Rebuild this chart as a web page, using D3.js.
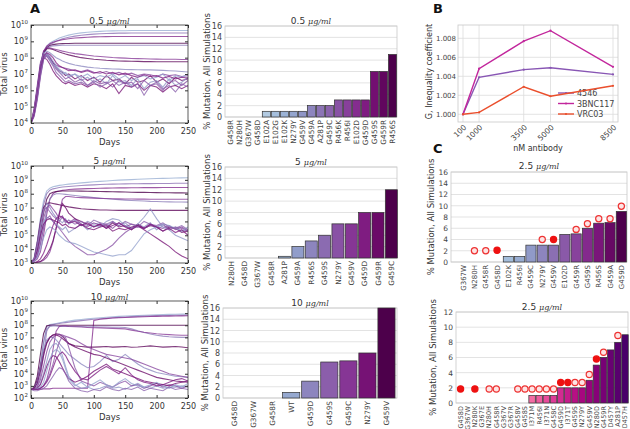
<!DOCTYPE html>
<html><head><meta charset="utf-8">
<script src="https://cdn.jsdelivr.net/npm/d3@7"></script>
<style>body{margin:0;background:#fff}svg{display:block}text{font-family:"DejaVu Sans",sans-serif}</style>
</head><body><svg id="c" width="630" height="429"></svg>
<script>
// ---------- DATA ----------
const days = [0,5,10,15,20,25,30,35,40,45,50,55,60,70,80,90,100,110,120,130,140,150,160,170,180,190,200,210,220,230,240,250];

// log10(total virus) per simulation, 0.5 ug/ml
const traj05 = [
 [4.0,4.6,5.8,7.3,8.3,8.7,8.9,9.0,9.1,9.2,9.27,9.33,9.38,9.46,9.52,9.56,9.59,9.61,9.63,9.64,9.65,9.65,9.66,9.66,9.66,9.66,9.66,9.66,9.66,9.66,9.66,9.66],
 [4.0,4.5,5.6,7.1,8.2,8.6,8.8,8.9,9.0,9.08,9.15,9.2,9.25,9.32,9.37,9.41,9.44,9.46,9.48,9.49,9.5,9.5,9.51,9.51,9.51,9.51,9.51,9.51,9.51,9.51,9.51,9.51],
 [4.0,4.7,6.0,7.5,8.4,8.7,8.85,8.95,9.0,9.05,9.1,9.13,9.16,9.2,9.23,9.25,9.27,9.28,9.29,9.3,9.3,9.3,9.3,9.3,9.3,9.3,9.3,9.3,9.3,9.3,9.3,9.3],
 [4.0,4.6,5.9,7.4,8.3,8.6,8.75,8.8,8.83,8.85,8.86,8.87,8.87,8.88,8.88,8.88,8.88,8.88,8.88,8.88,8.88,8.88,8.88,8.88,8.88,8.88,8.88,8.88,8.88,8.88,8.88,8.88],
 [4.0,4.5,5.7,7.2,8.2,8.55,8.68,8.72,8.74,8.75,8.76,8.76,8.76,8.76,8.76,8.76,8.76,8.76,8.76,8.76,8.76,8.76,8.76,8.76,8.76,8.76,8.76,8.76,8.76,8.76,8.76,8.76],
 [4.0,4.7,6.1,7.6,8.4,8.6,8.6,8.55,8.5,8.45,8.4,8.36,8.32,8.25,8.2,8.15,8.1,8.07,8.04,8.01,7.99,7.97,7.95,7.94,7.93,7.92,7.91,7.9,7.9,7.9,7.89,7.89],
 [4.0,4.6,5.9,7.4,8.3,8.55,8.55,8.5,8.42,8.35,8.28,8.22,8.17,8.08,8.0,7.95,7.9,7.87,7.84,7.82,7.8,7.79,7.78,7.77,7.76,7.76,7.75,7.75,7.75,7.75,7.75,7.75],
 [4.0,4.8,6.2,7.6,8.3,8.4,8.3,8.15,8.0,7.9,7.8,7.72,7.65,7.55,7.48,7.42,7.38,7.35,7.33,7.31,7.3,7.28,7.27,7.26,7.25,7.25,7.24,7.22,7.2,7.18,7.15,7.12],
 [4.0,4.9,6.3,7.7,8.2,8.1,7.9,7.7,7.55,7.45,7.4,7.35,7.3,7.2,7.15,7.25,7.1,7.05,7.15,7.0,7.1,6.95,7.05,6.9,7.0,6.95,6.85,7.0,6.9,6.95,6.85,6.9],
 [4.0,4.5,5.6,7.0,8.0,8.2,8.0,7.7,7.4,7.2,7.1,6.9,7.0,6.7,6.9,6.6,6.8,6.5,6.9,6.6,6.7,6.4,6.8,6.5,6.6,6.9,6.5,6.7,6.4,6.8,6.6,6.7],
 [4.0,4.6,5.8,7.2,8.1,8.3,8.1,7.8,7.5,7.3,7.15,7.0,6.8,7.0,6.6,6.8,6.5,6.7,6.4,6.9,6.5,6.6,6.3,6.7,6.1,6.5,6.6,6.2,6.7,6.3,6.5,6.8],
 [4.0,4.4,5.4,6.8,7.9,8.2,8.0,7.6,7.3,7.1,6.9,6.7,6.8,6.5,6.7,6.3,6.6,6.4,6.5,6.2,6.6,6.4,6.5,6.1,6.6,6.3,6.4,6.0,6.5,6.6,6.3,6.6],
 [4.0,4.8,6.1,7.4,8.0,7.9,7.6,7.2,6.9,6.7,6.5,6.4,6.5,6.3,6.4,6.2,6.4,6.3,6.1,6.4,5.8,6.3,6.2,6.4,6.0,6.3,6.2,5.9,6.2,6.3,6.1,6.3],
 [4.0,4.7,6.0,7.3,8.1,8.2,7.9,7.6,7.4,7.2,7.0,7.1,6.9,7.0,6.8,7.0,6.7,6.9,6.8,7.0,6.7,6.9,6.6,6.8,6.9,6.7,6.8,7.0,6.6,6.9,6.8,7.0],
 [4.0,4.5,5.5,6.9,7.9,8.1,7.8,7.5,7.1,6.9,6.7,6.5,6.6,6.4,6.5,6.3,6.5,6.2,6.4,6.6,6.3,6.5,6.2,6.4,5.7,6.3,6.5,6.1,6.3,5.9,6.4,6.2],
 [4.0,4.6,5.9,7.3,8.1,8.3,8.2,8.0,7.7,7.5,7.4,7.3,7.2,7.25,7.1,7.2,7.05,7.15,7.0,7.1,6.95,7.05,6.9,6.8,6.95,6.85,6.9,6.75,6.85,6.7,6.8,6.75]
];

// 5 ug/ml
const traj5 = [
 [3.0,3.4,4.6,6.2,7.5,8.2,8.4,8.5,8.55,8.6,8.63,8.66,8.69,8.74,8.78,8.82,8.86,8.89,8.92,8.95,8.98,9.0,9.02,9.04,9.06,9.08,9.1,9.11,9.12,9.13,9.14,9.15],
 [3.0,3.3,4.3,5.8,7.2,8.0,8.25,8.35,8.4,8.45,8.48,8.5,8.52,8.56,8.59,8.62,8.64,8.66,8.68,8.69,8.7,8.71,8.72,8.72,8.73,8.73,8.74,8.74,8.74,8.75,8.75,8.75],
 [3.0,3.1,3.3,3.8,5.0,6.5,7.6,8.0,8.15,8.2,8.24,8.27,8.3,8.33,8.35,8.37,8.38,8.39,8.4,8.41,8.42,8.42,8.43,8.43,8.44,8.44,8.44,8.45,8.45,8.45,8.45,8.45],
 [3.0,3.2,3.9,5.2,6.6,7.6,8.0,8.1,8.15,8.18,8.2,8.2,8.2,8.2,8.19,8.18,8.17,8.16,8.15,8.14,8.13,8.12,8.11,8.1,8.1,8.09,8.08,8.07,8.07,8.06,8.06,8.05],
 [3.0,3.2,3.5,4.3,5.6,6.8,7.6,7.9,8.0,8.0,7.98,7.95,7.92,7.87,7.82,7.77,7.72,7.68,7.64,7.6,7.57,7.54,7.51,7.49,7.47,7.45,7.44,7.42,7.41,7.4,7.4,7.39],
 [3.0,3.0,3.05,3.1,3.2,3.4,3.8,4.5,5.5,6.6,7.6,7.8,7.8,7.75,7.72,7.7,7.68,7.66,7.65,7.64,7.63,7.62,7.62,7.61,7.61,7.6,7.6,7.6,7.6,7.6,7.6,7.6],
 [3.0,3.3,4.5,6.0,7.0,7.3,7.35,7.3,7.25,7.2,7.15,7.1,7.05,6.98,6.92,6.88,6.85,6.83,6.82,6.81,6.8,6.8,6.8,6.8,6.8,6.8,6.8,6.8,6.8,6.8,6.8,6.8],
 [3.0,3.2,4.0,5.5,6.8,7.3,7.0,6.6,6.3,6.1,5.9,6.2,5.8,6.1,5.7,6.0,5.8,5.9,5.6,6.0,5.7,5.9,5.5,5.8,5.6,5.9,5.4,5.7,5.5,5.6,5.3,5.4],
 [3.0,3.1,3.6,4.8,6.2,7.0,7.2,6.9,6.6,6.2,6.4,6.0,5.9,6.2,5.8,5.6,5.9,5.7,5.8,5.5,5.9,5.6,5.8,5.7,5.5,5.8,5.6,5.5,5.7,5.4,5.6,5.3],
 [3.0,3.0,3.05,3.1,3.3,3.6,4.0,4.6,5.5,6.5,7.3,7.0,6.6,6.2,6.0,5.8,5.6,5.8,5.5,5.9,5.6,5.7,5.4,5.8,5.5,5.7,5.6,5.3,5.6,5.5,5.2,5.3],
 [3.0,3.2,3.8,5.0,6.0,6.3,6.2,6.0,5.8,5.6,5.4,5.6,5.2,5.5,5.8,5.4,5.7,5.6,6.0,6.2,6.1,5.7,5.5,5.8,6.3,6.9,6.2,5.6,5.4,5.0,4.8,4.6],
 [3.0,3.1,3.5,4.4,5.5,6.2,6.4,6.0,5.7,5.5,5.2,4.9,4.6,4.2,3.9,3.6,3.6,3.8,4.0,4.3,4.8,5.2,5.5,5.6,5.5,5.7,5.6,5.8,5.4,5.6,5.5,5.3],
 [3.0,3.2,3.9,5.0,5.8,6.1,6.2,6.1,6.0,5.9,5.7,5.8,5.6,5.5,5.8,5.5,5.4,5.6,5.7,5.3,5.5,5.4,5.6,5.7,5.4,5.1,4.8,4.5,4.2,3.8,3.5,3.3],
 [3.0,3.1,3.4,4.0,4.8,5.4,5.6,5.5,5.3,5.0,4.8,4.6,4.5,4.4,4.2,4.0,3.8,3.7,3.6,3.5,3.6,3.6,3.9,4.5,5.1,5.4,5.6,5.8,5.7,5.5,5.3,5.6],
 [3.0,3.3,4.4,5.8,6.8,7.0,6.7,6.4,6.2,6.0,6.3,5.9,6.1,5.8,6.0,5.7,6.1,5.9,5.8,6.0,5.7,6.0,5.8,5.6,6.0,5.8,5.7,5.9,5.6,5.5,5.7,5.4],
 [3.0,3.0,3.1,3.3,3.7,4.3,5.0,5.7,6.2,6.4,6.3,6.1,5.9,6.0,5.7,5.9,5.6,5.8,5.5,5.7,5.9,5.6,5.4,5.7,5.5,5.8,5.6,5.3,5.5,5.2,5.4,5.0]
];

// 10 ug/ml
const traj10 = [
 [2.7,2.8,3.3,4.5,6.5,7.9,8.05,8.1,8.15,8.2,8.25,8.3,8.35,8.42,8.48,8.53,8.58,8.62,8.66,8.7,8.73,8.76,8.78,8.8,8.82,8.84,8.86,8.88,8.9,8.91,8.92,8.93],
 [2.7,2.75,3.0,3.8,5.5,7.5,8.0,8.05,8.1,8.14,8.18,8.22,8.26,8.32,8.38,8.44,8.49,8.54,8.58,8.62,8.65,8.68,8.71,8.73,8.75,8.77,8.79,8.8,8.81,8.82,8.83,8.84],
 [2.7,2.7,2.7,2.7,2.75,2.75,2.75,2.8,2.8,2.8,2.8,2.8,2.8,2.8,2.8,2.8,8.4,8.5,8.55,8.6,8.62,8.64,8.66,8.68,8.7,8.72,8.73,8.74,8.75,8.76,8.77,8.78],
 [2.7,2.9,3.8,5.6,7.3,7.95,8.0,8.0,8.0,8.0,8.0,8.0,8.0,8.0,8.0,8.0,8.0,8.0,8.0,8.0,8.0,8.0,8.0,8.0,8.0,8.0,8.0,8.0,8.0,8.0,8.0,8.0],
 [2.7,2.8,3.4,4.8,6.6,7.7,7.9,7.95,7.95,7.9,7.9,7.9,7.9,7.9,7.9,7.88,7.87,7.86,7.85,7.84,7.83,7.82,7.7,7.55,7.4,7.28,7.18,7.1,7.05,7.02,7.0,7.0],
 [2.7,2.7,2.75,2.8,3.0,3.5,4.5,6.0,7.5,7.9,7.95,7.95,7.9,7.88,7.85,7.82,7.8,7.78,7.76,7.74,7.72,7.7,7.6,7.5,7.42,7.36,7.3,7.26,7.23,7.2,7.18,7.17],
 [2.7,2.8,3.5,4.6,5.8,6.6,7.0,7.2,7.3,7.25,7.1,6.8,6.5,6.3,6.25,6.2,6.2,6.22,6.25,6.2,6.22,6.25,6.18,6.2,6.25,6.3,6.25,6.2,6.22,6.25,6.2,6.15],
 [2.7,2.8,3.3,4.5,6.0,6.8,7.0,7.0,6.8,6.5,6.2,5.9,5.6,5.2,4.8,4.5,4.6,5.0,5.5,5.0,5.2,5.6,5.2,4.8,4.5,4.3,4.1,4.0,3.9,3.8,3.75,3.7],
 [2.7,2.7,2.9,3.5,4.6,5.8,6.6,7.0,7.2,7.25,7.2,7.1,7.0,6.8,6.5,6.2,6.0,5.8,5.6,5.5,5.4,5.3,5.2,5.0,4.8,4.6,4.4,4.2,4.0,3.9,3.8,3.7],
 [2.7,2.8,3.2,4.2,5.5,6.5,7.0,7.2,7.2,7.1,6.9,6.7,6.5,6.2,6.0,5.8,5.6,5.5,5.3,5.1,4.9,4.7,4.5,4.3,4.1,3.9,3.7,3.6,3.5,3.4,3.35,3.3],
 [2.7,2.7,2.8,3.2,4.0,5.0,6.0,6.4,6.5,6.2,5.5,4.6,3.8,3.1,2.8,2.9,2.7,2.8,3.0,2.8,2.9,2.7,3.0,3.2,2.9,2.8,3.0,2.8,2.9,2.9,3.0,2.9],
 [2.7,2.7,2.75,2.8,3.0,3.4,4.0,4.8,5.8,6.6,7.1,7.0,6.2,4.5,3.4,3.2,3.0,3.3,3.1,2.9,3.2,3.4,3.0,3.1,2.8,3.0,3.2,2.9,3.1,3.0,2.8,3.0],
 [2.7,2.7,2.8,3.1,3.8,4.6,5.2,5.5,5.4,5.0,4.5,4.0,3.6,3.3,3.5,3.8,4.2,4.5,4.8,4.4,4.2,4.0,3.8,3.6,3.4,3.3,3.2,3.1,3.0,3.2,3.3,3.4],
 [2.7,2.7,2.75,2.9,3.3,4.2,5.2,5.8,6.0,5.8,5.2,4.4,3.6,3.0,3.3,2.9,3.2,3.5,3.1,2.9,3.3,3.6,3.2,3.0,2.9,3.1,3.3,3.0,2.8,3.1,2.9,3.2],
 [2.7,2.6,2.6,2.7,2.8,3.0,3.4,3.8,4.2,4.5,4.4,4.0,3.4,2.8,2.6,2.5,2.7,2.6,2.9,2.7,2.6,2.8,2.7,2.9,2.6,2.8,2.7,2.6,2.9,2.7,2.8,2.7],
 [2.7,2.7,2.7,2.8,3.0,3.3,3.8,4.5,5.2,5.6,5.8,5.5,5.0,4.2,3.6,3.5,3.9,4.3,4.6,4.3,4.0,4.5,3.9,3.5,3.3,3.2,3.0,3.1,3.3,3.5,3.6,3.4]
];

// mutation frequency bars (panel A)
const cats05 = ["G458R","N280H","G367W","G458D","E102A","E102G","E102K","N279Y","G459V","G459A","A281P","G459C","R456K","R456I","E102D","G459D","G459S","G459R","R456S"];
const vals05 = [0,0,0,0,1,1,1,1,1,2,2,2,3,3,3,3,8,8,11];
const cats5 = ["N280H","G458D","G367W","G458R","A281P","G459A","R456S","G459S","N279Y","G459V","G459D","G459R","G459C"];
const vals5 = [0,0,0,0,0.3,2,3,4,6,6,8,8,12];
const cats10 = ["G458D","G367W","G458R","WT","G459D","G459S","G459C","N279Y","G459V"];
const vals10 = [0,0,0,1,3,6.4,6.6,8,16];

// panel B
const nM = [100,1000,3500,5000,8500];
const g4546 = [1.0000,1.0039,1.0047,1.0049,1.0042];
const g3BNC117 = [1.0000,1.0048,1.0077,1.0088,1.0050];
const gVRC03 = [1.0000,1.0002,1.0029,1.0019,1.0030];
const bTicksY = [1.000,1.002,1.004,1.006,1.008];

// panel C
const catsC1 = ["G367W","N280H","G458R","G458D","E102K","R456I","G459C","N279Y","G459V","E102D","G459R","G459S","R456S","G459A","G459D"];
const valsC1 = [0,0,0,0,1,1,3,3,3,4.9,5,6,6.9,7,9];
const markC1 = [null,2,2,2.1,null,null,null,4,4,null,5.8,6.8,7.7,7.7,9.9];
const filledC1 = [0,0,0,1,0,0,0,0,1,0,0,0,0,0,0];
const catsC2 = ["G458D","G367W","N280K","G367E","N280H","G458R","G367V","G367R","G458V","G458S","I371M","R456I","I371N","G458C","G459D","I371T","G459S","N279Y","G459V","N280D","G459R","D457Y","A281P","D457H"];
const valsC2 = [0,0,0,0,0,0,0,0,0,0,1,1,1,1,2,2,2,2,3,5,6,7,8,9];
const markC2 = [1.85,null,1.85,null,1.85,1.85,null,null,1.85,1.85,1.85,1.85,1.85,1.85,2.7,2.7,2.7,2.7,3.75,5.8,6.7,null,8.9,null];
const filledC2 = [1,0,1,0,0,0,0,0,0,0,0,0,0,0,1,1,0,0,0,1,0,0,0,0];

// ---------- DRAWING ----------
const svg = d3.select("#c");

function mathTitle(x, y, num, size) {
  const t = svg.append("text").attr("x", x).attr("y", y).attr("text-anchor", "middle")
    .attr("font-size", size).attr("fill", "#333");
  t.append("tspan").text(num + " ");
  t.append("tspan").attr("font-family", "DejaVu Serif").attr("font-style", "italic")
    .attr("font-size", size - 1).text("μg/ml");
}

function drawTraj(lines, minExp, b, titleNum, titleY, clipId) {
  const x = d3.scaleLinear().domain([0, 250]).range([b.x0, b.x1]);
  const y = d3.scaleLog().domain([Math.pow(10, minExp), 1e10]).range([b.y1, b.y0]);
  svg.append("clipPath").attr("id", clipId).append("rect")
    .attr("x", b.x0).attr("y", b.y0).attr("width", b.x1 - b.x0).attr("height", b.y1 - b.y0);
  const n = lines.length;
  const line = d3.line().x((d, i) => x(days[i])).y(d => y(Math.pow(10, d)));
  svg.append("g").attr("clip-path", `url(#${clipId})`)
    .selectAll("path").data(lines).join("path")
    .attr("d", line).attr("fill", "none")
    .attr("stroke", (d, i) => d3.interpolateBuPu(0.42 + 0.58 * ((i * 5) % n) / (n - 1)))
    .attr("stroke-width", 1.1).attr("stroke-opacity", 0.78);
  const xt = [0, 50, 100, 150, 200, 250];
  const ax = svg.append("g").attr("transform", `translate(0,${b.y1})`)
    .call(d3.axisBottom(x).tickValues(xt).tickSizeInner(-3).tickSizeOuter(0).tickPadding(5));
  ax.select(".domain").remove();
  ax.selectAll("text").attr("font-size", 8).attr("fill", "#333").attr("font-family", "DejaVu Sans");
  ax.selectAll("line").attr("stroke", "#333");
  const at = svg.append("g").attr("transform", `translate(0,${b.y0})`)
    .call(d3.axisTop(x).tickValues(xt).tickSizeInner(-3).tickSizeOuter(0).tickFormat(""));
  at.select(".domain").remove(); at.selectAll("line").attr("stroke", "#333");
  const exps = d3.range(minExp, 11);
  const yv = exps.map(e => Math.pow(10, e));
  const al = svg.append("g").attr("transform", `translate(${b.x0},0)`)
    .call(d3.axisLeft(y).tickValues(yv).tickSizeInner(-3).tickSizeOuter(0).tickFormat(""));
  al.select(".domain").remove(); al.selectAll("line").attr("stroke", "#333");
  const ar = svg.append("g").attr("transform", `translate(${b.x1},0)`)
    .call(d3.axisRight(y).tickValues(yv).tickSizeInner(-3).tickSizeOuter(0).tickFormat(""));
  ar.select(".domain").remove(); ar.selectAll("line").attr("stroke", "#333");
  exps.forEach(e => {
    svg.append("text").attr("x", b.x0 - 3 - (e >= 10 ? 7 : 4)).attr("y", y(Math.pow(10, e)) + 3)
      .attr("text-anchor", "end").attr("font-size", 8).attr("fill", "#333").text("10");
    svg.append("text").attr("x", b.x0 - 3).attr("y", y(Math.pow(10, e)) - 1)
      .attr("text-anchor", "end").attr("font-size", 5.5).attr("fill", "#333").text(e);
  });
  svg.append("rect").attr("x", b.x0).attr("y", b.y0).attr("width", b.x1 - b.x0).attr("height", b.y1 - b.y0)
    .attr("fill", "none").attr("stroke", "#333").attr("stroke-width", 0.8);
  svg.append("text").attr("x", (b.x0 + b.x1) / 2).attr("y", b.y1 + 21.5).attr("text-anchor", "middle")
    .attr("font-size", 8.5).attr("fill", "#333").text("Days");
  svg.append("text").attr("transform", `translate(7,${(b.y0 + b.y1) / 2}) rotate(-90)`)
    .attr("text-anchor", "middle").attr("font-size", 8.5).attr("fill", "#333").text("Total virus");
  mathTitle((b.x0 + b.x1) / 2, titleY, titleNum, 9);
}

function drawBars(cats, vals, b, band, yMax, yStep, titleNum, titleY, interp, labFont, ylabX, tickFont, marks, filled) {
  const n = cats.length;
  const x = d3.scaleBand().domain(cats).range(band).paddingInner(0.1).paddingOuter(0.05);
  const y = d3.scaleLinear().domain([0, yMax]).range([b.y1, b.y0]);
  const ticks = d3.range(0, yMax + 0.001, yStep);
  svg.append("g").selectAll("line").data(ticks).join("line")
    .attr("x1", b.x0).attr("x2", b.x1).attr("y1", d => y(d)).attr("y2", d => y(d))
    .attr("stroke", "#dcdcdc").attr("stroke-width", 0.8);
  svg.append("rect").attr("x", b.x0).attr("y", b.y0).attr("width", b.x1 - b.x0).attr("height", b.y1 - b.y0)
    .attr("fill", "none").attr("stroke", "#c8c8c8").attr("stroke-width", 0.8);
  const ay = svg.append("g").attr("transform", `translate(${b.x0},0)`)
    .call(d3.axisLeft(y).tickValues(ticks).tickSize(0).tickPadding(3));
  ay.select(".domain").remove();
  ay.selectAll("text").attr("font-size", tickFont).attr("fill", "#444").attr("font-family", "DejaVu Sans");
  const data = cats.map((c, i) => ({c, v: vals[i], i}));
  svg.append("g").selectAll("rect").data(data.filter(d => d.v > 0)).join("rect")
    .attr("x", d => x(d.c)).attr("width", x.bandwidth())
    .attr("y", d => y(d.v)).attr("height", d => y(0) - y(d.v))
    .attr("fill", d => interp(0.1 + 0.9 * d.i / (n - 1)))
    .attr("stroke", "#333").attr("stroke-width", 0.7);
  svg.append("g").selectAll("text").data(cats).join("text")
    .attr("transform", d => `translate(${x(d) + x.bandwidth() / 2},${b.y1 + 3}) rotate(-90)`)
    .attr("text-anchor", "end").attr("dy", "0.35em").attr("font-size", labFont).attr("fill", "#444").text(d => d);
  if (marks) {
    const md = cats.map((c, i) => ({c, m: marks[i], f: filled[i]})).filter(d => d.m !== null);
    svg.append("g").selectAll("circle").data(md).join("circle")
      .attr("cx", d => x(d.c) + x.bandwidth() / 2).attr("cy", d => y(d.m)).attr("r", 3.1)
      .attr("fill", d => d.f ? "#ee1111" : "#fde4e4").attr("stroke", d => d.f ? "#ee1111" : "#ee3333")
      .attr("stroke-width", 1.2);
  }
  svg.append("text").attr("transform", `translate(${ylabX},${(b.y0 + b.y1) / 2}) rotate(-90)`)
    .attr("text-anchor", "middle").attr("dy", "0.35em").attr("font-size", 8.5).attr("fill", "#333")
    .text("% Mutation, All Simulations");
  mathTitle((b.x0 + b.x1) / 2, titleY, titleNum, 9);
}

// Panel A trajectories
drawTraj(traj05, 4, {x0: 31, x1: 188, y0: 25, y1: 123}, "0.5", 23.5, "cl1");
drawTraj(traj5, 3, {x0: 31, x1: 188, y0: 166, y1: 263}, "5", 164, "cl2");
drawTraj(traj10, 2, {x0: 31, x1: 188, y0: 301, y1: 398}, "10", 299.5, "cl3");

// Panel A bars
drawBars(cats05, vals05, {x0: 225, x1: 397, y0: 26, y1: 117}, [225.8, 397], 16, 2, "0.5", 24, d3.interpolateBuPu, 7.3, 207, 8);
drawBars(cats5, vals5, {x0: 225, x1: 397, y0: 167, y1: 258}, [224.5, 398], 16, 2, "5", 164.5, d3.interpolateBuPu, 7.3, 207, 8);
drawBars(cats10, vals10, {x0: 223, x1: 397, y0: 308, y1: 398}, [224.5, 396], 16, 2, "10", 305.5, d3.interpolateBuPu, 7.3, 205, 8);

// Panel C bars
drawBars(catsC1, valsC1, {x0: 451, x1: 627, y0: 172, y1: 262}, [457.5, 627], 16, 2, "2.5", 169, d3.interpolateBuPu, 7, 431, 7.5, markC1, filledC1);
drawBars(catsC2, valsC2, {x0: 456, x1: 628, y0: 312, y1: 403}, [457, 628.6], 12, 2, "2.5", 309.5, d3.interpolateRdPu, 6.5, 433, 7.5, markC2, filledC2);

// Panel B
(function () {
  const b = {x0: 458, x1: 618, y0: 25, y1: 122};
  const x = d3.scaleLinear().domain([-180, 8780]).range([b.x0, b.x1]);
  const y = d3.scaleLinear().domain([0.99919, 1.0094]).range([b.y1, b.y0]);
  svg.append("g").selectAll("line").data(bTicksY).join("line")
    .attr("x1", b.x0).attr("x2", b.x1).attr("y1", d => y(d)).attr("y2", d => y(d))
    .attr("stroke", "#dcdcdc").attr("stroke-width", 0.8);
  svg.append("g").selectAll("line").data(nM).join("line")
    .attr("y1", b.y0).attr("y2", b.y1).attr("x1", d => x(d)).attr("x2", d => x(d))
    .attr("stroke", "#dcdcdc").attr("stroke-width", 0.8);
  svg.append("rect").attr("x", b.x0).attr("y", b.y0).attr("width", b.x1 - b.x0).attr("height", b.y1 - b.y0)
    .attr("fill", "none").attr("stroke", "#c8c8c8").attr("stroke-width", 0.8);
  const ay = svg.append("g").attr("transform", `translate(${b.x0},0)`)
    .call(d3.axisLeft(y).tickValues(bTicksY).tickSize(0).tickPadding(2).tickFormat(d3.format(".3f")));
  ay.select(".domain").remove();
  ay.selectAll("text").attr("font-size", 7).attr("fill", "#444").attr("font-family", "DejaVu Sans");
  svg.append("g").selectAll("text").data(nM).join("text")
    .attr("transform", d => `translate(${x(d) + 2},${b.y1 + 4}) rotate(-45)`)
    .attr("text-anchor", "end").attr("dy", "0.35em").attr("font-size", 7.5).attr("fill", "#444").text(d => d);
  const series = [
    {name: "4546", v: g4546, c: "#8856b4"},
    {name: "3BNC117", v: g3BNC117, c: "#c2269c"},
    {name: "VRC03", v: gVRC03, c: "#ea4e2c"}
  ];
  const line = d3.line().x((d, i) => x(nM[i])).y(d => y(d));
  series.forEach((s, k) => {
    svg.append("path").attr("d", line(s.v)).attr("fill", "none").attr("stroke", s.c).attr("stroke-width", 1.4);
    svg.append("g").selectAll("circle").data(s.v).join("circle")
      .attr("cx", (d, i) => x(nM[i])).attr("cy", d => y(d)).attr("r", 1.1).attr("fill", s.c);
    const ly = 93 + k * 10.5;
    svg.append("line").attr("x1", 558).attr("x2", 574).attr("y1", ly).attr("y2", ly)
      .attr("stroke", s.c).attr("stroke-width", 1.4);
    svg.append("circle").attr("cx", 566).attr("cy", ly).attr("r", 1.1).attr("fill", s.c);
    svg.append("text").attr("x", 577).attr("y", ly + 3).attr("font-size", 8).attr("fill", "#444").text(s.name);
  });
  svg.append("text").attr("transform", `translate(429,${(b.y0 + b.y1) / 2 - 2}) rotate(-90)`)
    .attr("text-anchor", "middle").attr("dy", "0.35em").attr("font-size", 8).attr("fill", "#333")
    .text("G, Inequality coefficient");
  svg.append("text").attr("x", 538).attr("y", 151).attr("text-anchor", "middle")
    .attr("font-size", 8).attr("fill", "#333").text("nM antibody");
})();

// Panel letters
[["A", 30, 13], ["B", 433, 13], ["C", 433, 153]].forEach(([t, px, py]) => {
  svg.append("text").attr("x", px).attr("y", py).attr("font-size", 13).attr("font-weight", "bold")
    .attr("fill", "#111").text(t);
});
</script>
</body></html>
